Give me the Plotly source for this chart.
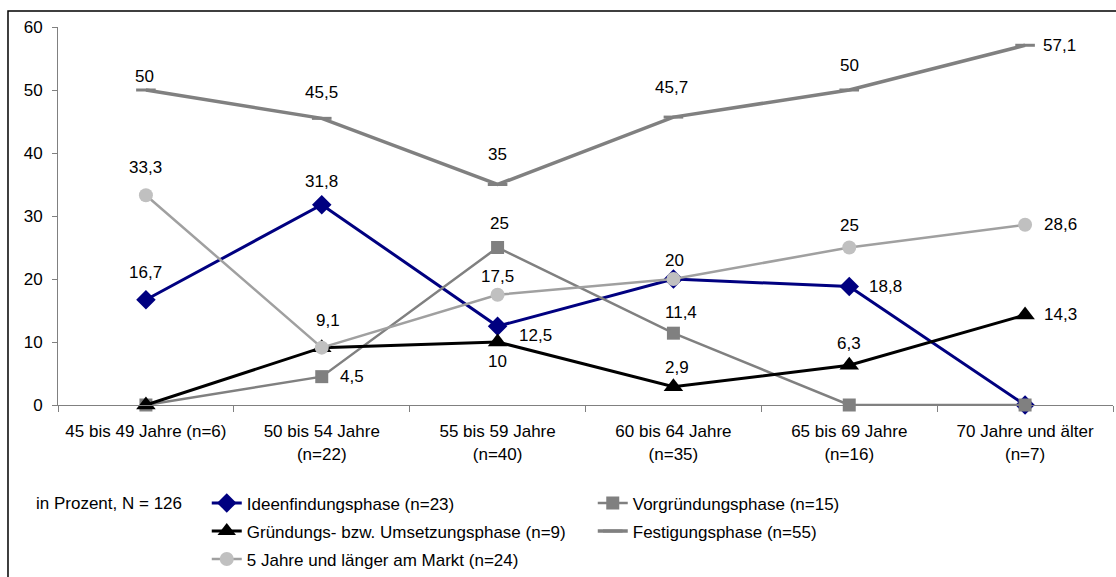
import plotly.graph_objects as go

# Altersgruppen (Kategorien der x-Achse)
categories = [
    "45 bis 49 Jahre (n=6)",
    "50 bis 54 Jahre<br>(n=22)",
    "55 bis 59 Jahre<br>(n=40)",
    "60 bis 64 Jahre<br>(n=35)",
    "65 bis 69 Jahre<br>(n=16)",
    "70 Jahre und älter<br>(n=7)",
]

# Anteile je Phase in Prozent
ideenfindung = [16.7, 31.8, 12.5, 20, 18.8, 0]
vorgruendung = [0, 4.5, 25, 11.4, 0, 0]
gruendung = [0, 9.1, 10, 2.9, 6.3, 14.3]
festigung = [50, 45.5, 35, 45.7, 50, 57.1]
am_markt = [33.3, 9.1, 17.5, 20, 25, 28.6]

y_ticks = [0, 10, 20, 30, 40, 50, 60]

FONT = "Liberation Sans, Arial, sans-serif"
FS = 17

# Serien: Name, Werte, Linienfarbe, Linienbreite, Marker, Legendenzeile,
# Beschriftungs-Versatz (px) je Punkt
series = [
    ("Ideenfindungsphase (n=23)", ideenfindung, "#000080", 3,
     dict(symbol="diamond", size=15, color="#000080"), "legend",
     [(0, 27), (0, 23), (38, -9), None, (36, 0), None]),
    ("Vorgründungsphase (n=15)", vorgruendung, "#808080", 2.5,
     dict(symbol="square", size=13, color="#808080"), "legend",
     [None, (30, 0), (2, 24), (8, 21), None, None]),
    ("Gründungs- bzw. Umsetzungsphase (n=9)", gruendung, "#000000", 3,
     dict(symbol="triangle-up", size=17, color="#000000"), "legend2",
     [None, None, (0, -19), (4, 19), (0, 22), (35, 0)]),
    ("Festigungsphase (n=55)", festigung, "#808080", 3.5,
     dict(symbol="line-ew", size=14, color="#808080",
          line=dict(color="#808080", width=3)), "legend2",
     [(-1, 14), (0, 26), (0, 30), (-2, 30), (0, 25), (34, 0)]),
    ("5 Jahre und länger am Markt (n=24)", am_markt, "#A0A0A0", 2.5,
     dict(symbol="circle", size=14, color="#C0C0C0"), "legend3",
     [(0, 28), (6, 27), (0, 18), (1, 19), (0, 22), (35, 0)]),
]


def fmt(v):
    return f"{v:g}".replace(".", ",")


fig = go.Figure()
annotations = []
for name, vals, color, width, marker, legend_ref, offsets in series:
    fig.add_trace(go.Scatter(
        x=categories, y=vals, name=name, mode="lines+markers",
        line=dict(color=color, width=width),
        marker=marker, legend=legend_ref,
        cliponaxis=False,
        hoverinfo="skip",
    ))
    for cat, v, off in zip(categories, vals, offsets):
        if off is None:
            continue
        annotations.append(dict(
            x=cat, y=v, xref="x", yref="y", text=fmt(v), showarrow=False,
            xshift=off[0], yshift=off[1],
            font=dict(family=FONT, size=FS, color="#000000"),
        ))

annotations.append(dict(
    x=-0.023, y=-0.260, xref="paper", yref="paper", xanchor="left", yanchor="middle",
    text="in Prozent, N = 126", showarrow=False,
    font=dict(family=FONT, size=FS, color="#000000"),
))


def legend_row(y_top):
    return dict(
        orientation="h", x=0.141, xanchor="left", y=y_top, yanchor="top",
        entrywidth=341, entrywidthmode="pixels",
        font=dict(family=FONT, size=FS, color="#000000"),
        bgcolor="rgba(0,0,0,0)", itemsizing="trace",
    )


fig.update_layout(
    width=1116, height=577,
    margin=dict(l=58, r=3, t=27, b=172, autoexpand=False),
    paper_bgcolor="#FFFFFF", plot_bgcolor="#FFFFFF",
    font=dict(family=FONT, size=FS, color="#000000"),
    showlegend=True,
    legend=legend_row(-0.2127),
    legend2=legend_row(-0.2868),
    legend3=legend_row(-0.3608),
    annotations=annotations,
    shapes=[dict(
        type="rect", xref="paper", yref="paper",
        x0=-0.0474, x1=1.03, y0=-0.6, y1=1.0423,
        line=dict(color="#000000", width=1.5), fillcolor="rgba(0,0,0,0)",
        layer="below",
    )],
)

fig.update_xaxes(
    type="category", categoryorder="array", categoryarray=categories,
    range=[-0.5, 5.5], tickson="boundaries",
    showline=True, linecolor="#808080", linewidth=1,
    ticks="outside", ticklen=6, tickcolor="#808080",
    showgrid=False, zeroline=False,
    tickfont=dict(family=FONT, size=FS, color="#000000"),
    ticklabelstandoff=11,
)
fig.update_yaxes(
    range=[0, 60], tickvals=y_ticks,
    showline=True, linecolor="#808080", linewidth=1,
    ticks="outside", ticklen=5, tickcolor="#808080",
    showgrid=False, zeroline=False,
    tickfont=dict(family=FONT, size=FS, color="#000000"),
    ticklabelstandoff=6,
)

fig.write_html("out.html")
